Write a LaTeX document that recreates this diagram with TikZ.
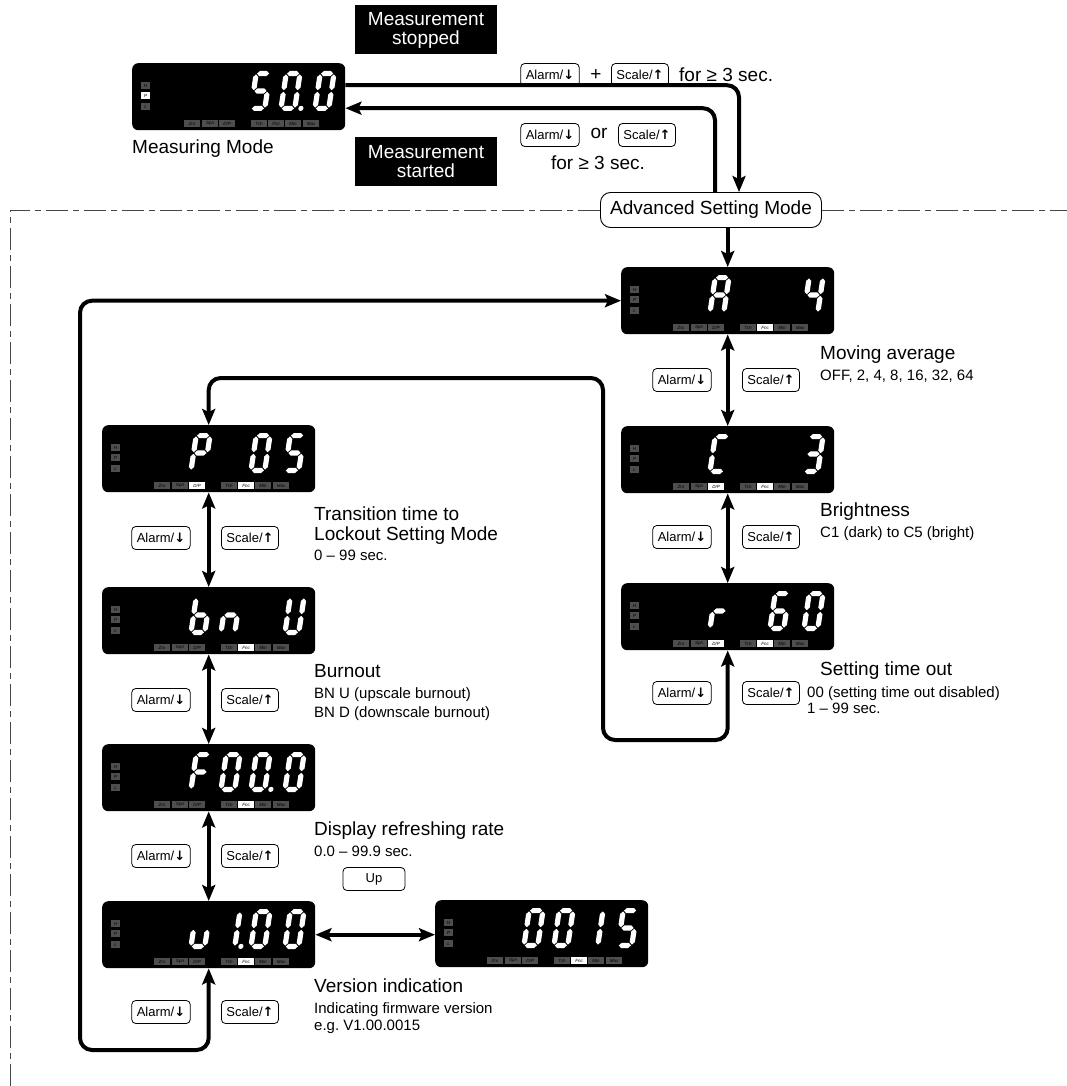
\documentclass[tikz,border=0pt]{standalone}
\usepackage{fontspec}
\setmainfont{Liberation Sans}
\newfontfamily\arrowfont{DejaVu Sans}
\usetikzlibrary{arrows.meta}
\definecolor{ledgray}{RGB}{78,78,78}
\definecolor{framecol}{RGB}{70,70,70}

\newcommand{\kdn}{{\arrowfont\bfseries ↓}}
\newcommand{\kup}{{\arrowfont\bfseries ↑}}

% seven segment pieces
\def\st{2.6}
\newcommand{\hseg}[3]{\fill (#1,#3) -- (#1+\st,#3-\st) -- (#2-\st,#3-\st) -- (#2,#3) -- (#2-\st,#3+\st) -- (#1+\st,#3+\st) -- cycle;}
\newcommand{\vseg}[3]{\fill (#1,#2) -- (#1+\st,#2+\st) -- (#1+\st,#3-\st) -- (#1,#3) -- (#1-\st,#3-\st) -- (#1-\st,#2+\st) -- cycle;}
\def\sga{\hseg{3.4}{15.6}{2.6}}
\def\sgb{\vseg{16.4}{3.4}{19.2}}
\def\sgc{\vseg{16.4}{20.8}{36.6}}
\def\sgd{\hseg{3.4}{15.6}{37.4}}
\def\sge{\vseg{2.6}{20.8}{36.6}}
\def\sgf{\vseg{2.6}{3.4}{19.2}}
\def\sgg{\hseg{3.4}{15.6}{20}}
\def\sgp{\fill (22.5,37.4) circle (2.6);}
\newcommand{\glyph}[2]{\expandafter\def\csname dg#1\endcsname{#2}}
\glyph{0}{a,b,c,d,e,f}\glyph{0.}{a,b,c,d,e,f,p}
\glyph{1}{b,c}\glyph{1.}{b,c,p}
\glyph{3}{a,b,c,d,g}\glyph{4}{b,c,f,g}
\glyph{5}{a,c,d,f,g}\glyph{6}{a,c,d,e,f,g}
\glyph{A}{a,b,c,e,f,g}\glyph{C}{a,d,e,f}
\glyph{P}{a,b,e,f,g}\glyph{F}{a,e,f,g}
\glyph{U}{b,c,d,e,f}\glyph{b}{c,d,e,f,g}
\glyph{n}{c,e,g}\glyph{r}{e,g}\glyph{u}{c,d,e}

% indicator lamps
\newcommand{\dpname}{D/P}
\newcommand{\led}[5]{\fill[#5] (#1,#2) rectangle ++(#3,7); \node[ledlbl] at (#1+#3/2,#2+3.5) {#4};}
\def\hlp{\led{9}{29}{9}{P}{ledon}}
\def\hldp{\led{87}{57}{16}{D/P}{ledon}}
\def\hlfnc{\led{136}{57}{16}{Fnc}{ledon}}

% display: name, top left, digits, lit lamps
\newcommand{\lcd}[4]{%
  \node[lcd] (#1) at (#2) {};
  \begin{scope}[shift={(#1.north west)}]
    \foreach \yy/\t in {19/H,29/P,40/L} {\led{9}{\yy}{9}{\t}{ledoff}}
    \foreach \xx/\t in {52/Zro,70/Spn,87/\dpname,119/Tch,136/Fnc,153/Min,171/Max} {\led{\xx}{57}{16}{\t}{ledoff}}
    \foreach \k in {#4} {\csname hl\k\endcsname}
    \foreach \p/\g in {#3} {
      \pgfmathsetmacro\dx{{0,92,122,152,186}[\p]}
      \expandafter\let\expandafter\seglist\csname dg\g\endcsname
      \begin{scope}[shift={(\dx,8)},xslant=0.15,white]
        \foreach \k in \seglist {\csname sg\k\endcsname}
      \end{scope}
    }
  \end{scope}}

\begin{document}
\begin{tikzpicture}[x=1pt,y=-1pt,
  >={Stealth[length=16pt,width=13pt,inset=3pt]},
  flow/.style={line width=4pt,rounded corners=12pt},
  lcd/.style={fill=black,rounded corners=6pt,anchor=north west,minimum width=213pt,minimum height=67pt,inner sep=0pt},
  ledoff/.style={fill=ledgray},
  ledon/.style={fill=white},
  ledlbl/.style={font=\fontsize{4.5}{5}\selectfont\itshape,inner sep=0pt},
  key/.style={draw,rounded corners=4pt,line width=0.8pt,font=\fontsize{13}{13}\selectfont,inner xsep=5pt,minimum height=23pt},
  lbl/.style={anchor=base west,inner sep=0pt,font=\fontsize{19}{21}\selectfont},
  sub/.style={anchor=base west,inner sep=0pt,font=\fontsize{15}{17}\selectfont},
  tag/.style={fill=black,text=white,align=center,font=\fontsize{19}{21}\selectfont,minimum width=142pt,minimum height=49pt,inner sep=0pt},
  frame/.style={line width=0.9pt,framecol,dash pattern=on 22pt off 5pt on 6pt off 5pt}]
\useasboundingbox (0,0) rectangle (1067,1086);

% measuring mode
\lcd{meas}{132,63}{2/5,3/0.,4/0}{p}
\node[lbl] (measl) at (132,154) {Measuring Mode};
\node[tag] (stop) at (426,30) {Measurement\\[-2pt]stopped};
\node[tag] (start) at (426,162) {Measurement\\[-2pt]started};
\node[key] (ka0) at (550,75) {Alarm/\kdn};
\node[font=\fontsize{19}{21}\selectfont] (plus) at (596,75) {+};
\node[key] (ks0) at (640,75) {Scale/\kup};
\node[lbl] (hold0) at (679,82) {for ≥ 3 sec.};
\node[key] (ka1) at (550,135) {Alarm/\kdn};
\node[font=\fontsize{19}{21}\selectfont] (or) at (599,133) {or};
\node[key] (ks1) at (647,135) {Scale/\kup};
\node[font=\fontsize{19}{21}\selectfont] (hold1) at (598,163) {for ≥ 3 sec.};

% advanced setting mode
\node[draw,line width=0.9pt,rounded corners=10pt,minimum width=221pt,minimum height=35pt,font=\fontsize{19}{21}\selectfont] (adv) at (711,210) {Advanced Setting Mode};
\draw[frame] (10,1086) |- (adv.west);
\draw[frame] (adv.east) -- (1067,210);
\draw[flow,->] ([yshift=11.5pt]meas.east) -| ([xshift=28pt]adv.north);
\draw[flow,->] ([xshift=4pt]adv.north) |- ([yshift=-11.5pt]meas.east);

% right column
\lcd{avg}{621,267}{1/A,4/4}{fnc}
\lcd{bright}{621,426}{1/C,4/3}{dp,fnc}
\lcd{tout}{621,583}{1/r,3/6,4/0}{dp,fnc}
\draw[flow,->] (avg.north |- adv.south) -- (avg.north);
\draw[flow,<->] (avg.south) -- (bright.north);
\draw[flow,<->] (bright.south) -- (tout.north);
\node[lbl] (avgl) at (820,359) {Moving average};
\node[sub] (avgs) at (820,380) {OFF, 2, 4, 8, 16, 32, 64};
\node[lbl] (brightl) at (820,516) {Brightness};
\node[sub] (brights) at (820,537) {C1 (dark) to C5 (bright)};
\node[lbl] (toutl) at (820,675) {Setting time out};
\node[sub] (touts) at (807,697) {00 (setting time out disabled)};
\node[sub] (touts2) at (807,713) {1 – 99 sec.};
\foreach \r/\yy in {1/380,2/537,3/693} {
  \node[key] (ra\r) at (682,\yy) {Alarm/\kdn};
  \node[key] (rs\r) at (771,\yy) {Scale/\kup};
}

% left column
\lcd{lock}{102,425}{1/P,3/0,4/5}{dp,fnc}
\lcd{burn}{102,587}{1/b,2/n,4/U}{fnc}
\lcd{refr}{102,744}{1/F,2/0,3/0.,4/0}{fnc}
\lcd{ver}{102,901}{1/u,2/1.,3/0,4/0}{fnc}
\lcd{verb}{435,900}{1/0,2/0,3/1,4/5}{fnc}
\draw[flow,<->] (lock.south) -- (burn.north);
\draw[flow,<->] (burn.south) -- (refr.north);
\draw[flow,<->] (refr.south) -- (ver.north);
\draw[flow,<->] (ver.east) -- (ver.east -| verb.west);
\node[key,minimum width=62pt] (up) at (374,879) {Up};
\node[lbl] (lockl) at (314,520) {Transition time to};
\node[lbl] (lockl2) at (314,540) {Lockout Setting Mode};
\node[sub] (locks) at (314,560) {0 – 99 sec.};
\node[lbl] (burnl) at (314,677) {Burnout};
\node[sub] (burns) at (314,698) {BN U (upscale burnout)};
\node[sub] (burns2) at (314,717) {BN D (downscale burnout)};
\node[lbl] (refrl) at (314,835) {Display refreshing rate};
\node[sub] (refrs) at (314,856) {0.0 – 99.9 sec.};
\node[lbl] (verl) at (314,992) {Version indication};
\node[sub] (vers) at (314,1013) {Indicating firmware version};
\node[sub] (vers2) at (314,1030) {e.g.\ V1.00.0015};
\foreach \r/\yy in {1/538,2/700,3/856,4/1012} {
  \node[key] (la\r) at (161,\yy) {Alarm/\kdn};
  \node[key] (ls\r) at (250,\yy) {Scale/\kup};
}

% wrap-around paths
\coordinate (wl) at (603,740);
\coordinate (wu) at (603,378);
\draw[flow,<->] (tout.south) |- (wl) -- (wu) -| (lock.north);
\coordinate (bl) at (80,1050);
\draw[flow,<->] (ver.south) |- (bl) |- (avg.west);
\end{tikzpicture}
\end{document}
